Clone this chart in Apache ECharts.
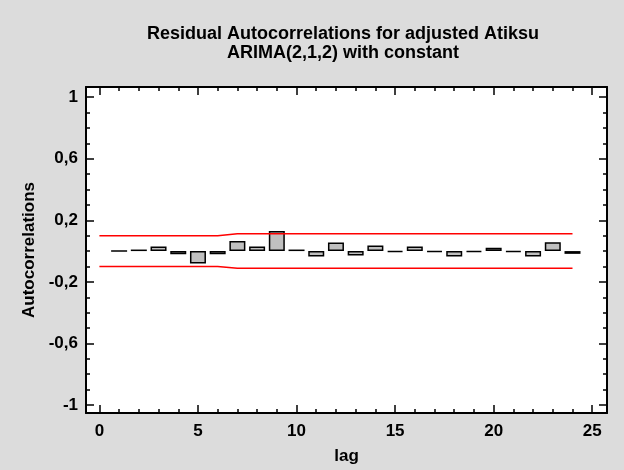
<!DOCTYPE html>
<html>
<head>
<meta charset="utf-8">
<script src="https://cdn.jsdelivr.net/npm/echarts@6/dist/echarts.min.js"></script>
<style>
  html, body { margin: 0; padding: 0; background: #dcdcdc; }
  #chart { width: 624px; height: 470px; }
</style>
</head>
<body>
<div id="chart"></div>
<script>
// residual autocorrelations
const lags = [1, 2, 3, 4, 5, 6, 7, 8, 9, 10, 11, 12, 13, 14, 15, 16, 17, 18, 19, 20, 21, 22, 23, 24];
const acf = [0.0, 0.01, 0.03, -0.02, -0.08, -0.02, 0.065, 0.03, 0.13, 0.01, -0.035, 0.055,
  -0.029, 0.037, -0.007, 0.03, -0.007, -0.036, -0.007, 0.022, -0.007, -0.036, 0.058, -0.018];

// probability limits
const limitLags = [0, 1, 2, 3, 4, 5, 6, 7, 8, 9, 10, 11, 12, 13, 14, 15, 16, 17, 18, 19, 20, 21, 22, 23, 24];
const upperLimit = [0.1, 0.1, 0.1, 0.1, 0.1, 0.1, 0.1, 0.112, 0.112, 0.112, 0.112, 0.112, 0.112,
  0.112, 0.112, 0.112, 0.112, 0.112, 0.112, 0.112, 0.112, 0.112, 0.112, 0.112, 0.112];
const lowerLimit = [-0.1, -0.1, -0.1, -0.1, -0.1, -0.1, -0.1, -0.112, -0.112, -0.112, -0.112, -0.112, -0.112,
  -0.112, -0.112, -0.112, -0.112, -0.112, -0.112, -0.112, -0.112, -0.112, -0.112, -0.112, -0.112];

const xMajor = [0, 5, 10, 15, 20, 25];
const xMinor = [0, 1, 2, 3, 4, 5, 6, 7, 8, 9, 10, 11, 12, 13, 14, 15, 16, 17, 18, 19, 20, 21, 22, 23, 24, 25];
const yMajor = [-1, -0.6, -0.2, 0.2, 0.6, 1];
const yMinor = [-1, -0.9, -0.8, -0.7, -0.6, -0.5, -0.4, -0.3, -0.2, -0.1, 0, 0.1, 0.2, 0.3, 0.4, 0.5, 0.6, 0.7, 0.8, 0.9, 1];

const font = '"Liberation Sans", Arial, sans-serif';

function xAx(position, ticks, len, labels, lineOn) {
  return {
    type: 'value', position: position, min: -0.68, max: 25.75,
    splitLine: { show: false },
    axisLine: { show: lineOn, onZero: false, lineStyle: { color: '#000', width: 2 } },
    axisTick: { show: true, inside: true, length: len, customValues: ticks, lineStyle: { color: '#000', width: 1.5 } },
    axisLabel: labels ? {
      customValues: xMajor, color: '#000', fontFamily: font, fontWeight: 'bold', fontSize: 17, margin: 10
    } : { show: false }
  };
}

function yAx(position, ticks, len, labels, lineOn) {
  return {
    type: 'value', position: position, min: -1.052, max: 1.066,
    splitLine: { show: false },
    axisLine: { show: lineOn, onZero: false, lineStyle: { color: '#000', width: 2 } },
    axisTick: { show: true, inside: true, length: len, customValues: ticks, lineStyle: { color: '#000', width: 1.5 } },
    axisLabel: labels ? {
      customValues: yMajor, color: '#000', fontFamily: font, fontWeight: 'bold', fontSize: 17, margin: 8,
      padding: [5, 0, 0, 0],
      formatter: v => String(v).replace('.', ',')
    } : { show: false }
  };
}

const chart = echarts.init(document.getElementById('chart'));

const xAxes = [
  xAx('bottom', xMajor, 8, true, true),
  xAx('bottom', xMinor, 4, false, false),
  xAx('top', xMajor, 8, false, true),
  xAx('top', xMinor, 4, false, false)
];
xAxes[0].name = 'lag';
xAxes[0].nameLocation = 'middle';
xAxes[0].nameGap = 35;
xAxes[0].nameTextStyle = { color: '#000', fontFamily: font, fontWeight: 'bold', fontSize: 17 };

const yAxes = [
  yAx('left', yMajor, 8, true, true),
  yAx('left', yMinor, 4, false, false),
  yAx('right', yMajor, 8, false, true),
  yAx('right', yMinor, 4, false, false)
];
yAxes[0].name = 'Autocorrelations';
yAxes[0].nameLocation = 'middle';
yAxes[0].nameGap = 42;
yAxes[0].nameRotate = 90;
yAxes[0].nameTextStyle = { color: '#000', fontFamily: font, fontWeight: 'bold', fontSize: 17 };

const option = {
  backgroundColor: '#dcdcdc',
  animation: false,
  title: {
    text: 'Residual Autocorrelations for adjusted Atiksu\nARIMA(2,1,2) with constant',
    left: 338,
    top: 20,
    textAlign: 'center',
    textStyle: { color: '#000', fontFamily: font, fontWeight: 'bold', fontSize: 18, lineHeight: 19 }
  },
  grid: {
    left: 86, right: 17, top: 87, bottom: 56,
    show: true, backgroundColor: '#fff', borderWidth: 0
  },
  xAxis: xAxes,
  yAxis: yAxes,
  series: [
    {
      type: 'bar',
      xAxisIndex: 0,
      yAxisIndex: 0,
      barWidth: 16,
      data: lags.map((l, i) => [l, acf[i]]),
      itemStyle: { color: '#c0c0c0', borderColor: '#000', borderWidth: 1.5 }
    },
    {
      type: 'line',
      xAxisIndex: 0,
      yAxisIndex: 0,
      showSymbol: false,
      data: limitLags.map((l, i) => [l, upperLimit[i]]),
      lineStyle: { color: '#ff0000', width: 1.5 }
    },
    {
      type: 'line',
      xAxisIndex: 0,
      yAxisIndex: 0,
      showSymbol: false,
      data: limitLags.map((l, i) => [l, lowerLimit[i]]),
      lineStyle: { color: '#ff0000', width: 1.5 }
    }
  ]
};
chart.setOption(option, true);
</script>
</body>
</html>
